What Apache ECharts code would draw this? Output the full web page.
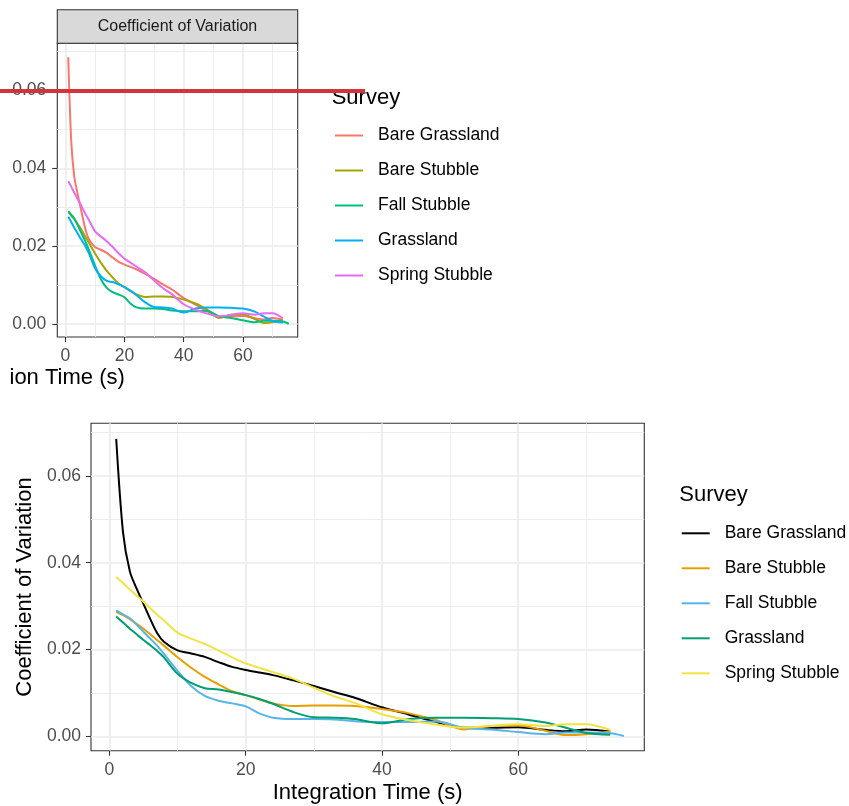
<!DOCTYPE html>
<html>
<head>
<meta charset="utf-8">
<script src="https://cdn.jsdelivr.net/npm/echarts@6/dist/echarts.min.js"></script>
<style>
html,body{margin:0;padding:0;background:#fff;}
#chart{width:849px;height:806px;}
</style>
</head>
<body>
<div id="chart"></div>
<script>
// ---------- data ----------
const surveys = ["Bare Grassland", "Bare Stubble", "Fall Stubble", "Grassland", "Spring Stubble"];
const timeS = [1, 2, 3, 4, 5, 6, 7, 8, 10, 12, 14, 16, 18, 20, 22, 24, 27, 30, 33, 36, 40, 44, 48, 52, 56, 60, 64, 67, 70, 73.5, 75.5];
const bareGrassland = [0.0685, 0.047, 0.038, 0.034, 0.0305, 0.027, 0.0238, 0.0218, 0.0198, 0.0191, 0.0183, 0.0171, 0.016, 0.0153, 0.0147, 0.0141, 0.0129, 0.0116, 0.0102, 0.0089, 0.0067, 0.005, 0.0033, 0.002, 0.002, 0.0021, 0.0015, 0.0012, 0.0016, 0.0011, null];
const bareStubble = [0.0287, 0.0279, 0.027, 0.0259, 0.0248, 0.0235, 0.0222, 0.0209, 0.0182, 0.0158, 0.0137, 0.012, 0.0104, 0.0095, 0.0085, 0.0076, 0.007, 0.0071, 0.0071, 0.007, 0.0063, 0.0053, 0.0037, 0.0016, 0.0024, 0.0025, 0.0013, 0.0003, 0.0005, 0.0011, null];
const fallStubble = [0.029, 0.0281, 0.0272, 0.0257, 0.0241, 0.0225, 0.0209, 0.019, 0.0151, 0.0116, 0.0093, 0.0082, 0.0076, 0.0069, 0.0053, 0.0043, 0.004, 0.004, 0.0039, 0.0035, 0.0033, 0.0033, 0.0034, 0.002, 0.0016, 0.001, 0.0005, 0.0009, 0.0009, 0.0007, 0.0001];
const grassland = [0.0276, 0.0262, 0.0248, 0.0235, 0.0222, 0.021, 0.0197, 0.0182, 0.0144, 0.0123, 0.0111, 0.0108, 0.0102, 0.0095, 0.0086, 0.0075, 0.0056, 0.0044, 0.0043, 0.004, 0.003, 0.004, 0.0043, 0.0043, 0.0042, 0.004, 0.0032, 0.002, 0.0008, 0.0004, null];
const springStubble = [0.0367, 0.0353, 0.0338, 0.0324, 0.031, 0.0295, 0.028, 0.0267, 0.0239, 0.0225, 0.0213, 0.0198, 0.0182, 0.0168, 0.0158, 0.0148, 0.0133, 0.0112, 0.0092, 0.0077, 0.0051, 0.0037, 0.0027, 0.002, 0.0024, 0.0028, 0.0024, 0.0028, 0.0028, 0.0015, null];
const seriesValues = [bareGrassland, bareStubble, fallStubble, grassland, springStubble];

const xMajorTicks = [0, 20, 40, 60];
const xMinorTicks = [10, 30, 50, 70];
const yMajorTicks = [0, 0.02, 0.04, 0.06];
const yMinorTicks = [0.01, 0.03, 0.05, 0.07];

const colorsTop = ["#F8766D", "#A3A500", "#00BF7D", "#00B0F6", "#E76BF3"];
const colorsBottom = ["#000000", "#E69F00", "#56B4E9", "#009E73", "#F0E442"];

// ---------- chart ----------
const FONT = "'Liberation Sans', Arial, Helvetica, sans-serif";
const X_MIN = -2.7, X_MAX = 78.5, Y_MIN = -0.0033, Y_MAX = 0.0721;

function mainX(grid, margin) {
  return {
    type: 'value', gridIndex: grid, min: X_MIN, max: X_MAX,
    axisLine: {show: false, onZero: false},
    axisTick: {show: true, length: 5, customValues: xMajorTicks, lineStyle: {color: '#333', width: 1.1}},
    axisLabel: {show: true, customValues: xMajorTicks, margin: margin, color: '#4D4D4D', fontSize: 17.5, fontFamily: FONT},
    splitLine: {show: true, lineStyle: {color: '#EBEBEB', width: 1.6}}
  };
}
function minorX(grid) {
  return {
    type: 'value', gridIndex: grid, min: X_MIN, max: X_MAX,
    axisLine: {show: false, onZero: false},
    axisTick: {show: false, customValues: xMinorTicks},
    axisLabel: {show: false, customValues: xMinorTicks},
    splitLine: {show: true, lineStyle: {color: '#EBEBEB', width: 0.9}}
  };
}
function mainY(grid, margin) {
  return {
    type: 'value', gridIndex: grid, min: Y_MIN, max: Y_MAX,
    axisLine: {show: false, onZero: false},
    axisTick: {show: true, length: 5, customValues: yMajorTicks, lineStyle: {color: '#333', width: 1.1}},
    axisLabel: {show: true, customValues: yMajorTicks, margin: margin, color: '#4D4D4D', fontSize: 17.5, fontFamily: FONT,
      formatter: v => v.toFixed(2)},
    splitLine: {show: true, lineStyle: {color: '#EBEBEB', width: 1.6}}
  };
}
function minorY(grid) {
  return {
    type: 'value', gridIndex: grid, min: Y_MIN, max: Y_MAX,
    axisLine: {show: false, onZero: false},
    axisTick: {show: false, customValues: yMinorTicks},
    axisLabel: {show: false, customValues: yMinorTicks},
    splitLine: {show: true, lineStyle: {color: '#EBEBEB', width: 0.9}}
  };
}

const xAxes = [mainX(0, 10), minorX(0), mainX(1, 10), minorX(1)];
const yAxes = [mainY(0, 11), minorY(0), mainY(1, 10), minorY(1)];
yAxes[2].name = 'Coefficient of Variation';
yAxes[2].nameLocation = 'middle';
yAxes[2].nameGap = 50;
yAxes[2].nameTextStyle = {fontSize: 22, color: '#000', fontFamily: FONT};
xAxes[2].name = 'Integration Time (s)';
xAxes[2].nameLocation = 'middle';
xAxes[2].nameGap = 31;
xAxes[2].nameTextStyle = {fontSize: 22, color: '#000', fontFamily: FONT, verticalAlign: 'top'};

function pointsFor(values) {
  const pts = [];
  timeS.forEach((t, j) => { if (values[j] !== null) pts.push([t, values[j]]); });
  return pts;
}

const series = [];
surveys.forEach((s, i) => {
  series.push({
    name: s, type: 'line', xAxisIndex: 0, yAxisIndex: 0, data: pointsFor(seriesValues[i]),
    symbol: 'none', smooth: 0.3, color: colorsTop[i],
    lineStyle: {width: 2, color: colorsTop[i]}, z: 3
  });
});
surveys.forEach((s, i) => {
  series.push({
    name: s + '#b', type: 'line', xAxisIndex: 2, yAxisIndex: 2, data: pointsFor(seriesValues[i]),
    symbol: 'none', smooth: 0.3, color: colorsBottom[i],
    lineStyle: {width: 2, color: colorsBottom[i]}, z: 3
  });
});

const legendCommon = {
  orient: 'vertical', icon: 'rect', itemWidth: 28, itemHeight: 2, itemGap: 0, padding: 0,
  selectedMode: false,
  textStyle: {fontSize: 17.5, fontFamily: FONT, color: '#000', lineHeight: 35, padding: [0, 0, 0, 10]},
  formatter: n => n.split('#')[0]
};

const option = {
  animation: false,
  backgroundColor: '#fff',
  grid: [
    {left: 57.3, top: 43.3, width: 240.4, height: 293.7, show: true, borderColor: '#333', borderWidth: 1.1, backgroundColor: 'transparent', containLabel: false},
    {left: 91, top: 423.3, width: 553.3, height: 327.4, show: true, borderColor: '#333', borderWidth: 1.1, backgroundColor: 'transparent', containLabel: false}
  ],
  xAxis: xAxes,
  yAxis: yAxes,
  legend: [
    Object.assign({}, legendCommon, {left: 335, top: 118, data: surveys}),
    Object.assign({}, legendCommon, {left: 681.7, top: 515.8, data: surveys.map(s => s + '#b')})
  ],
  graphic: [
    {type: 'rect', shape: {x: 57.3, y: 9.8, width: 240.4, height: 33.5}, style: {fill: '#D9D9D9', stroke: '#333', lineWidth: 1.1}, z: 5},
    {type: 'text', x: 177.5, y: 26.8, style: {text: 'Coefficient of Variation', font: '16px ' + FONT, fill: '#1A1A1A', textAlign: 'center', textVerticalAlign: 'middle'}, z: 6},
    {type: 'text', x: 9.5, y: 378, style: {text: 'ion Time (s)', font: '22px ' + FONT, fill: '#000', textAlign: 'left', textVerticalAlign: 'middle'}, z: 6},
    {type: 'text', x: 331.7, y: 98, style: {text: 'Survey', font: '22px ' + FONT, fill: '#000', textAlign: 'left', textVerticalAlign: 'middle'}, z: 6},
    {type: 'text', x: 679.3, y: 495, style: {text: 'Survey', font: '22px ' + FONT, fill: '#000', textAlign: 'left', textVerticalAlign: 'middle'}, z: 6},
    {type: 'line', shape: {x1: 0, y1: 91, x2: 365, y2: 91}, style: {stroke: '#D1343A', lineWidth: 4}, z: 100}
  ],
  series: series
};

const chart = echarts.init(document.getElementById('chart'), null, {renderer: 'canvas'});
chart.setOption(option);
</script>
</body>
</html>
